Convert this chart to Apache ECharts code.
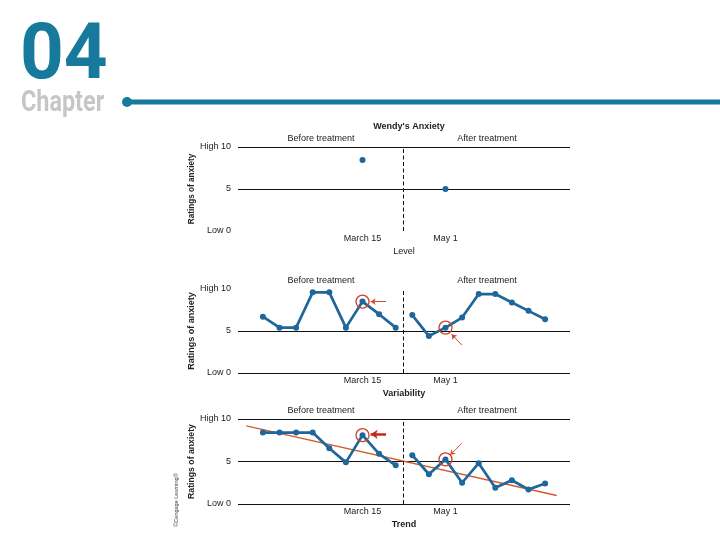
<!DOCTYPE html>
<html><head><meta charset="utf-8">
<script src="https://cdn.jsdelivr.net/npm/echarts@6/dist/echarts.min.js"></script>
<style>html,body{margin:0;padding:0;background:#fff}#c{width:720px;height:540px}</style>
</head><body><div id="c"></div>
<script>
// ---- data ----
const xTickLabels = {6: 'March 15', 11: 'May 1'};
const yTickLabels = {0: 'Low 0', 5: '5', 10: 'High 10'};
const panelNames = ['Level', 'Variability', 'Trend'];
const phaseLabels = ['Before treatment', 'After treatment'];
const phaseLabelX = [3.5, 13.5];
const phaseSplitX = 8.45;
const levelX = [6, 11];
const levelY = [8.45, 5.0];
const beforeX = [0, 1, 2, 3, 4, 5, 6, 7, 8];
const afterX = [9, 10, 11, 12, 13, 14, 15, 16, 17];
const variabilityBefore = [6.7, 5.4, 5.4, 9.6, 9.6, 5.4, 8.5, 7.0, 5.4];
const variabilityAfter = [6.9, 4.4, 5.4, 6.6, 9.4, 9.4, 8.4, 7.4, 6.4];
const trendBefore = [8.4, 8.4, 8.4, 8.4, 6.55, 4.9, 8.1, 5.9, 4.55];
const trendAfter = [5.75, 3.5, 5.25, 2.5, 4.8, 1.9, 2.8, 1.7, 2.4];
const trendLineX = [-1.0, 17.7];
const trendLineY = [9.2, 1.0];
// highlighted points: [panel, phase (0 before / 1 after), index]
const highlights = [[1, 0, 6], [1, 1, 2], [2, 0, 6], [2, 1, 2]];
// arrows in data units: [x1, y1, x2, y2]
const arrows = [[7.42, 8.49, 6.49, 8.49], [11.98, 3.33, 11.37, 4.6], [7.42, 8.2, 6.49, 8.2], [11.98, 7.14, 11.28, 5.76]];

// ---- styles ----
const FONT = '"Liberation Sans", Arial, sans-serif';
const BLUE = '#1f669a';
const TEAL = '#17799c';
const TXT = '#222';
const arrowColors = ['#d4482a', '#d4482a', '#c12a1a', '#d45a2a'];
const arrowWidths = [1, 1, 2.5, 1];
const arrowHeads = [5, 5, 7, 5];
const yNameSizes = [8.2, 9, 8.7];
const grids = [
  {left: 238, width: 332, top: 147, height: 84},
  {left: 238, width: 332, top: 289, height: 84},
  {left: 238, width: 332, top: 419, height: 85}
];

const zip = (xs, ys) => xs.map((x, i) => [x, ys[i]]);
const panelSeries = [
  [zip(levelX, levelY)],
  [zip(beforeX, variabilityBefore), zip(afterX, variabilityAfter)],
  [zip(beforeX, trendBefore), zip(afterX, trendAfter)]
];

const xAxes = [0, 1, 2].map(i => ({
  gridIndex: i, type: 'value', min: -1.5, max: 18.5, interval: 0.5,
  axisLine: {show: false}, axisTick: {show: false}, splitLine: {show: false},
  axisLabel: {margin: 3, fontSize: 9, color: TXT, fontFamily: FONT,
    formatter: v => xTickLabels[v] || ''},
  name: panelNames[i], nameLocation: 'middle', nameGap: 16,
  nameTextStyle: {fontSize: 9, color: TXT, fontFamily: FONT, fontWeight: i === 0 ? 'normal' : 'bold'}
}));

const yAxes = [0, 1, 2].map(i => ({
  gridIndex: i, type: 'value', min: 0, max: 10, interval: 5,
  axisLine: {show: false}, axisTick: {show: false},
  axisLabel: {margin: 7, fontSize: 9, color: TXT, fontFamily: FONT,
    formatter: v => yTickLabels[v] || ''},
  splitLine: {show: true, showMinLine: i !== 0, showMaxLine: i !== 1,
    lineStyle: {color: '#111', width: 1}},
  name: 'Ratings of anxiety', nameLocation: 'middle', nameGap: 42,
  nameTextStyle: {fontSize: yNameSizes[i], fontWeight: 'bold', color: TXT, fontFamily: FONT}
}));

const series = [];
panelSeries.forEach((list, p) => {
  list.forEach((data, k) => {
    const s = {
      type: p === 0 ? 'scatter' : 'line',
      xAxisIndex: p, yAxisIndex: p, data: data,
      symbol: 'circle', symbolSize: 6,
      itemStyle: {color: BLUE, opacity: 1},
      lineStyle: {color: BLUE, width: 2.7},
      silent: true, z: 3
    };
    if (k === 0) {
      s.markLine = {
        silent: true, symbol: 'none', label: {show: false}, emphasis: {disabled: true},
        lineStyle: {type: [4, 2.5], color: '#111', width: 1},
        data: [{xAxis: phaseSplitX}]
      };
      s.markPoint = {
        silent: true, symbol: 'circle', symbolSize: 0,
        itemStyle: {color: 'transparent'},
        label: {show: true, position: 'top', distance: 4, fontSize: 9, color: TXT,
          fontFamily: FONT, formatter: q => q.name},
        data: phaseLabels.map((t, j) => ({name: t, coord: [phaseLabelX[j], 10]}))
      };
    }
    series.push(s);
  });
});

// trend line
series.push({
  type: 'line', xAxisIndex: 2, yAxisIndex: 2, data: zip(trendLineX, trendLineY),
  symbol: 'none', silent: true, z: 2,
  lineStyle: {color: '#d4592c', width: 1.3}
});

// highlight circles + arrows
highlights.forEach((h, n) => {
  const pt = panelSeries[h[0]][h[1]][h[2]];
  const a = arrows[n];
  series.push({
    type: 'scatter', xAxisIndex: h[0], yAxisIndex: h[0], data: [pt],
    symbol: 'circle', symbolSize: 13, silent: true, z: 5,
    itemStyle: {color: 'transparent', borderColor: '#d0402a', borderWidth: 1.3, opacity: 1},
    markLine: {
      silent: true, symbol: ['none', 'arrow'], symbolSize: arrowHeads[n],
      label: {show: false}, emphasis: {disabled: true},
      lineStyle: {type: 'solid', color: arrowColors[n], width: arrowWidths[n]},
      data: [[{coord: [a[0], a[1]]}, {coord: [a[2], a[3]]}]]
    }
  });
});

const option = {
  animation: false,
  backgroundColor: '#fff',
  title: {text: "Wendy's Anxiety", left: 404, top: 117, textAlign: 'center',
    textStyle: {fontSize: 9, fontWeight: 'bold', color: TXT, fontFamily: FONT}},
  grid: grids,
  xAxis: xAxes,
  yAxis: yAxes,
  series: series,
  graphic: [
    {type: 'text', x: 20, y: 58, scaleX: 0.98, style: {text: '04', font: 'bold 78px Roboto', fill: TEAL, verticalAlign: 'middle'}},
    {type: 'text', x: 21, y: 103, scaleX: 0.78, style: {text: 'Chapter', font: 'bold 30px Roboto', fill: '#c6c6c6', verticalAlign: 'middle'}},
    {type: 'line', shape: {x1: 127, y1: 102, x2: 720, y2: 102}, style: {stroke: TEAL, lineWidth: 5}},
    {type: 'circle', shape: {cx: 127, cy: 102, r: 5}, style: {fill: TEAL}},
    {type: 'text', x: 176, y: 500, rotation: Math.PI / 2,
      style: {text: '©Cengage Learning®', fontSize: 5.5, fontFamily: FONT, fill: '#444', align: 'center', verticalAlign: 'middle'}}
  ]
};

const chart = echarts.init(document.getElementById('c'), null, {renderer: 'canvas'});
chart.setOption(option);
</script>
</body></html>
